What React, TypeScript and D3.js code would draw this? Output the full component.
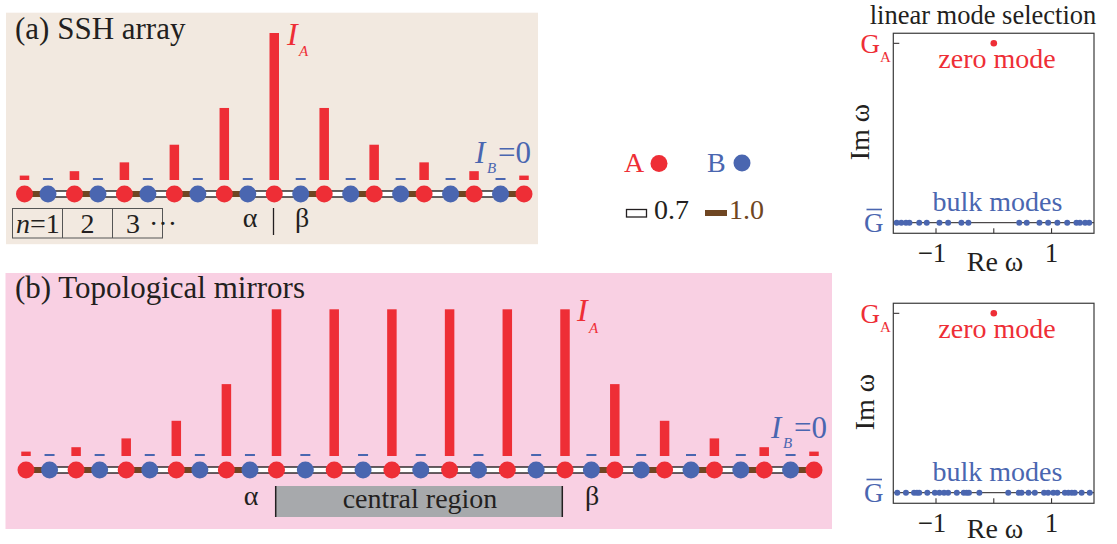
import React from 'react';
import * as d3 from 'd3';

const W = 1117;
const H = 544;
const RED = '#ee2e36';
const BLUE = '#4a66b0';
const BROWN = '#6f4622';
const INK = '#231f20';
const FONT = '"Liberation Serif", "Times New Roman", serif';

// (a) SSH array: intensity on the 11 A sites, 10 B sites stay dark
const sshIA = [0.03, 0.06, 0.12, 0.24, 0.49, 1, 0.49, 0.24, 0.12, 0.06, 0.03];
const sshIB = [0, 0, 0, 0, 0, 0, 0, 0, 0, 0];
// coupling per unit cell: [A->B, B->next A]; 'w' = 0.7, 's' = 1.0
const sshLinks = [
  ['s', 'w'], ['s', 'w'], ['s', 'w'], ['s', 'w'], ['s', 'w'],
  ['w', 's'], ['w', 's'], ['w', 's'], ['w', 's'], ['w', 's'],
];

// (b) topological mirrors: 16 A sites, 15 B sites
const mirIA = [0.03, 0.06, 0.12, 0.24, 0.49, 1, 1, 1, 1, 1, 1, 0.49, 0.24, 0.12, 0.06, 0.03];
const mirIB = [0, 0, 0, 0, 0, 0, 0, 0, 0, 0, 0, 0, 0, 0, 0];
const mirLinks = [
  ['s', 'w'], ['s', 'w'], ['s', 'w'], ['s', 'w'], ['s', 'w'],
  ['w', 'w'], ['w', 'w'], ['w', 'w'], ['w', 'w'], ['w', 'w'],
  ['w', 's'], ['w', 's'], ['w', 's'], ['w', 's'], ['w', 's'],
];

// spectra: Re ω of the bulk modes (sitting at Im ω = Ḡ) and the zero mode (at G_A)
const sshBulk = [
  -1.68, -1.6, -1.52, -1.46, -1.29, -1.16, -0.94, -0.79, -0.56, -0.44,
  0.44, 0.57, 0.79, 0.94, 1.1, 1.27, 1.43, 1.49, 1.58, 1.65,
];
const mirBulk = [
  -1.67, -1.52, -1.38, -1.33, -1.29, -1.15, -1.02, -0.94, -0.86, -0.79, -0.64, -0.52, -0.47, -0.43, -0.25,
  0.25, 0.43, 0.48, 0.6, 0.71, 0.87, 0.94, 1.03, 1.1, 1.23, 1.29, 1.35, 1.4, 1.52, 1.66,
];
const zeroModeRe = 0;
const reTicks = [-1, 0, 1];
const reTickLabels = ['\u22121', '', '1'];

type ChainProps = {
  x: d3.ScaleLinear<number, number>;
  IA: number[];
  IB: number[];
  links: string[][];
  chainY: number;
  base: number;
  top: number;
};

function blueOffset(link: string[]) {
  if (link[0] === 's') return 0.47;
  if (link[1] === 's') return 0.53;
  return 0.5;
}

function Link({ x1, x2, y, kind }: { x1: number; x2: number; y: number; kind: string }) {
  if (kind === 's') {
    return <rect x={x1} y={y - 3} width={x2 - x1} height={6} fill={BROWN} />;
  }
  return (
    <g>
      <rect x={x1} y={y - 3} width={x2 - x1} height={6} fill="#ffffff" />
      <line x1={x1} x2={x2} y1={y - 3} y2={y - 3} stroke={INK} strokeWidth={1.4} />
      <line x1={x1} x2={x2} y1={y + 3} y2={y + 3} stroke={INK} strokeWidth={1.4} />
    </g>
  );
}

function Chain({ x, IA, IB, links, chainY, base, top }: ChainProps) {
  const y = d3.scaleLinear().domain([0, 1]).range([base, top]);
  const aX = IA.map((_, i) => x(i));
  const bX = IB.map((_, i) => x(i + blueOffset(links[i])));
  return (
    <g>
      {links.map((lk, i) => (
        <g key={'l' + i}>
          <Link x1={aX[i]} x2={bX[i]} y={chainY} kind={lk[0]} />
          <Link x1={bX[i]} x2={aX[i + 1]} y={chainY} kind={lk[1]} />
        </g>
      ))}
      {IA.map((v, i) => (
        <rect key={'ba' + i} x={aX[i] - 4.75} y={y(v)} width={9.5} height={base - y(v)} fill={RED} />
      ))}
      {IB.map((v, i) => (
        <rect key={'bb' + i} x={bX[i] - 5} y={y(v) - 2} width={10} height={2} fill={BLUE} />
      ))}
      {IA.map((_, i) => (
        <circle key={'ca' + i} cx={aX[i]} cy={chainY} r={8.5} fill={RED} />
      ))}
      {IB.map((_, i) => (
        <circle key={'cb' + i} cx={bX[i]} cy={chainY} r={8.5} fill={BLUE} />
      ))}
    </g>
  );
}

function Spectrum({ dy, bulk, title, imX }: { dy: number; bulk: number[]; title?: string; imX: number }) {
  const x = d3.scaleLinear().domain([-1, 1]).range([936, 1051.6]);
  const y = d3.scaleLinear().domain([0, 1]).range([222.7 + dy, 43.3 + dy]);
  const x0 = 893.3;
  const x1 = 1094;
  const y0 = y(1.056);
  const y1 = y(-0.059);
  return (
    <g fontFamily={FONT}>
      {title && (
        <text x={983} y={24} fontSize={26.5} textAnchor="middle" fill={INK}>{title}</text>
      )}
      <line x1={x0} x2={x1} y1={y(0)} y2={y(0)} stroke={INK} strokeWidth={1} />
      <line x1={x0} x2={x0 + 6} y1={y(1)} y2={y(1)} stroke={INK} strokeWidth={1} />
      {reTicks.map((t) => (
        <line key={t} x1={x(t)} x2={x(t)} y1={y1} y2={y1 - 5} stroke={INK} strokeWidth={1} />
      ))}
      <rect x={x0} y={y0} width={x1 - x0} height={y1 - y0} fill="none" stroke="#3a3a3a" strokeWidth={1.2} />
      {bulk.map((v, i) => (
        <circle key={i} cx={x(v)} cy={y(0)} r={3} fill={BLUE} />
      ))}
      <circle cx={x(zeroModeRe)} cy={y(1)} r={3.3} fill={RED} />
      <text x={997} y={68.3 + dy} fontSize={28} textAnchor="middle" fill={RED}>zero mode</text>
      <text x={997.5} y={210.7 + dy} fontSize={28} textAnchor="middle" fill={BLUE}>bulk modes</text>
      <text x={880} y={53.3 + dy} fontSize={27} textAnchor="end" fill={RED}>G</text>
      <text x={880} y={62 + dy} fontSize={15} fill={RED}>A</text>
      <text x={883.5} y={231.7 + dy} fontSize={27} textAnchor="end" fill={BLUE}>G</text>
      <line x1={866.5} x2={882} y1={209.5 + dy} y2={209.5 + dy} stroke={BLUE} strokeWidth={1.6} />
      <text transform={`translate(${imX},${132 + dy}) rotate(-90)`} fontSize={28} textAnchor="middle" fill={INK}>Im ω</text>
      {reTicks.map((t, i) => (
        <text key={'tl' + t} x={x(t) - (t < 0 ? 4 : 0)} y={262 + dy} fontSize={27} textAnchor="middle" fill={INK}>
          {reTickLabels[i]}
        </text>
      ))}
      <text x={995} y={Math.min(271 + dy, 538)} fontSize={28} textAnchor="middle" fill={INK}>Re ω</text>
    </g>
  );
}

export default function App() {
  const xSsh = d3.scaleLinear().domain([0, 10]).range([24.5, 524]);
  const xMir = d3.scaleLinear().domain([0, 5, 10, 15]).range([26, 276.5, 565, 814]);
  return (
    <svg
      width={W}
      height={H}
      viewBox={`0 0 ${W} ${H}`}
      style={{ position: 'absolute', left: 0, top: 0, background: '#ffffff' }}
      fontFamily={FONT}
    >
      {/* panel (a) */}
      <rect x={6} y={12.7} width={532} height={231.5} fill="#f2e9e0" />
      <text x={15} y={39} fontSize={31} fill={INK}>(a) SSH array</text>
      <Chain x={xSsh} IA={sshIA} IB={sshIB} links={sshLinks} chainY={194} base={180} top={33} />
      <text x={287} y={45} fontSize={32} fontStyle="italic" fill={RED}>I</text>
      <text x={299} y={55.5} fontSize={15} fontStyle="italic" fill={RED}>A</text>
      <text x={475} y={163} fontSize={31} fontStyle="italic" fill={BLUE}>I</text>
      <text x={487} y={173} fontSize={15} fontStyle="italic" fill={BLUE}>B</text>
      <text x={498} y={163} fontSize={31} fill={BLUE}>=0</text>
      <g stroke="#555" strokeWidth={1} fill="none">
        <rect x={12.5} y={208.5} width={150} height={29.5} />
        <line x1={62.5} x2={62.5} y1={208.5} y2={238} />
        <line x1={112.5} x2={112.5} y1={208.5} y2={238} />
      </g>
      <text x={16} y={233} fontSize={28} fill={INK}>
        <tspan fontStyle="italic">n</tspan>=1
      </text>
      <text x={87.5} y={233} fontSize={28} textAnchor="middle" fill={INK}>2</text>
      <text x={133} y={233} fontSize={28} textAnchor="middle" fill={INK}>3</text>
      <text x={149} y={233} fontSize={28} fill={INK}>···</text>
      <text x={250} y={227} fontSize={28} textAnchor="middle" fill={INK}>α</text>
      <line x1={273.5} x2={273.5} y1={208} y2={235} stroke={INK} strokeWidth={1.3} />
      <text x={302} y={227} fontSize={28} textAnchor="middle" fill={INK}>β</text>

      {/* legend */}
      <text x={624} y={172} fontSize={28} fill={RED}>A</text>
      <circle cx={659} cy={163.5} r={8.5} fill={RED} />
      <text x={707} y={172} fontSize={28} fill={BLUE}>B</text>
      <circle cx={742} cy={163} r={8.5} fill={BLUE} />
      <rect x={626.5} y={209.5} width={20} height={7.5} fill="#fff" stroke={INK} strokeWidth={1.3} />
      <text x={654} y={219} fontSize={28} fill={INK}>0.7</text>
      <rect x={705} y={210} width={22} height={6} fill={BROWN} />
      <text x={729} y={219} fontSize={28} fill={BROWN}>1.0</text>

      {/* panel (b) */}
      <rect x={5.5} y={273} width={826.5} height={256} fill="#f9d0e3" />
      <text x={15} y={298} fontSize={31} fill={INK}>(b) Topological mirrors</text>
      <Chain x={xMir} IA={mirIA} IB={mirIB} links={mirLinks} chainY={470} base={456} top={309.3} />
      <text x={577} y={320.7} fontSize={32} fontStyle="italic" fill={RED}>I</text>
      <text x={589} y={332.5} fontSize={15} fontStyle="italic" fill={RED}>A</text>
      <text x={771} y={438.3} fontSize={31} fontStyle="italic" fill={BLUE}>I</text>
      <text x={783} y={448} fontSize={15} fontStyle="italic" fill={BLUE}>B</text>
      <text x={794} y={438.3} fontSize={31} fill={BLUE}>=0</text>
      <rect x={275} y={486} width={288} height={31} fill="#a7a9ac" />
      <line x1={275.7} x2={275.7} y1={486} y2={517} stroke={INK} strokeWidth={1.5} />
      <line x1={562.3} x2={562.3} y1={486} y2={517} stroke={INK} strokeWidth={1.5} />
      <text x={420} y={508} fontSize={28} textAnchor="middle" fill={INK}>central region</text>
      <text x={251} y={505} fontSize={28} textAnchor="middle" fill={INK}>α</text>
      <text x={592} y={505} fontSize={28} textAnchor="middle" fill={INK}>β</text>

      {/* spectra */}
      <Spectrum dy={0} bulk={sshBulk} title="linear mode selection" imX={869} />
      <Spectrum dy={270} bulk={mirBulk} imX={874} />
    </svg>
  );
}
